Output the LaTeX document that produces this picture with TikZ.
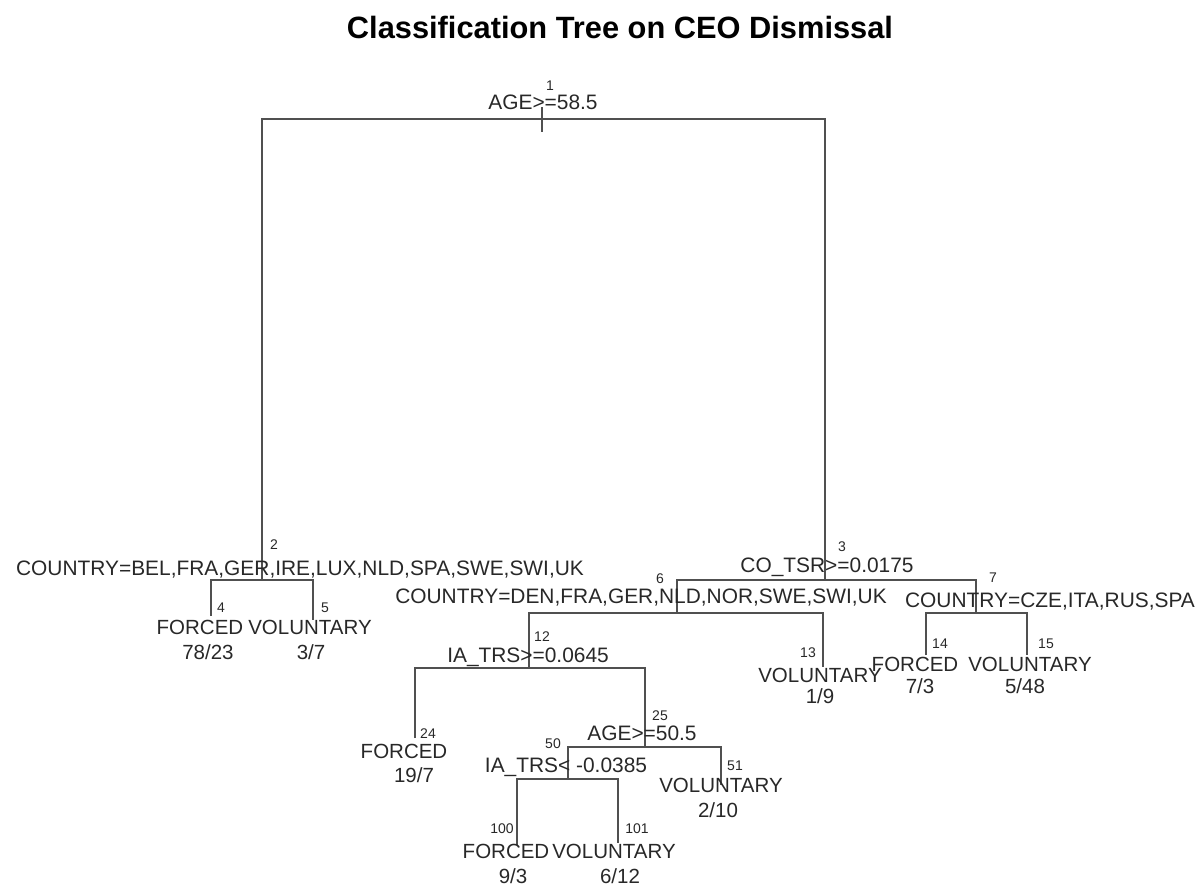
\documentclass[tikz,border=0pt]{standalone}
\usepackage{fontspec}
\setmainfont{Liberation Sans}
\usepackage{tikz}
\definecolor{treeline}{RGB}{80,80,80}
\definecolor{treetext}{RGB}{40,40,40}
\tikzset{
    splitlab/.style={anchor=base, inner sep=0pt, text=treetext, font=\fontsize{20.9}{24}\selectfont},
    leaflab/.style={anchor=base, inner sep=0pt, text=treetext, font=\fontsize{20.5}{24}\selectfont},
    numlab/.style={anchor=base, inner sep=0pt, text=treetext, font=\fontsize{14}{16}\selectfont},
    branch/.style={draw=treeline, line width=1.6pt}
}

\begin{document}
\begin{tikzpicture}[x=1pt,y=-1pt]
        \useasboundingbox (0,0) rectangle (1203,886);
        \node[anchor=base, font=\fontsize{30.8}{34}\selectfont\bfseries] (title) at (620,38) {Classification Tree on CEO Dismissal};

        \coordinate (n1) at (542,119);
        \coordinate (n2) at (262,580);
        \coordinate (n3) at (825,580);
        \coordinate (n4) at (211,616);
        \coordinate (n5) at (313,620);
        \coordinate (n6) at (677,613);
        \coordinate (n7) at (976,613);
        \coordinate (n12) at (529,668);
        \coordinate (n13) at (823,667);
        \coordinate (n14) at (926,655);
        \coordinate (n15) at (1027,655);
        \coordinate (n24) at (415,738);
        \coordinate (n25) at (645,747);
        \coordinate (n50) at (568,779);
        \coordinate (n51) at (721,785);
        \coordinate (n100) at (517,845);
        \coordinate (n101) at (618,843);

        \draw[branch] (n1) ++(0,-12) -- ++(0,25);
        \draw[branch] (n2) |- (n1) -| (n3);
        \draw[branch] (n4) |- (n2) -| (n5);
        \draw[branch] (n6) |- (n3) -| (n7);
        \draw[branch] (n12) |- (n6) -| (n13);
        \draw[branch] (n14) |- (n7) -| (n15);
        \draw[branch] (n24) |- (n12) -| (n25);
        \draw[branch] (n50) |- (n25) -| (n51);
        \draw[branch] (n100) |- (n50) -| (n101);

        \node[splitlab] (s1) at (543,109) {AGE>=58.5};
        \node[splitlab] (s2) at (300,575) {COUNTRY=BEL,FRA,GER,IRE,LUX,NLD,SPA,SWE,SWI,UK};
        \node[splitlab] (s3) at (827,572) {CO\_TSR>=0.0175};
        \node[splitlab] (s6) at (641,603) {COUNTRY=DEN,FRA,GER,NLD,NOR,SWE,SWI,UK};
        \node[splitlab] (s7) at (1050,607) {COUNTRY=CZE,ITA,RUS,SPA};
        \node[splitlab] (s12) at (528,662) {IA\_TRS>=0.0645};
        \node[splitlab] (s25) at (642,740) {AGE>=50.5};
        \node[splitlab] (s50) at (566,772) {IA\_TRS< -0.0385};

        \node[leaflab] (c4) at (200,634) {FORCED};
        \node[leaflab] (f4) at (208,659) {78/23};
        \node[leaflab] (c5) at (310,634) {VOLUNTARY};
        \node[leaflab] (f5) at (311,659) {3/7};
        \node[leaflab] (c13) at (820,682) {VOLUNTARY};
        \node[leaflab] (f13) at (820,703) {1/9};
        \node[leaflab] (c14) at (915,671) {FORCED};
        \node[leaflab] (f14) at (920,693) {7/3};
        \node[leaflab] (c15) at (1030,671) {VOLUNTARY};
        \node[leaflab] (f15) at (1025,693) {5/48};
        \node[leaflab] (c24) at (404,758) {FORCED};
        \node[leaflab] (f24) at (414,782) {19/7};
        \node[leaflab] (c51) at (721,792) {VOLUNTARY};
        \node[leaflab] (f51) at (718,817) {2/10};
        \node[leaflab] (c100) at (506,858) {FORCED};
        \node[leaflab] (f100) at (513,883) {9/3};
        \node[leaflab] (c101) at (614,858) {VOLUNTARY};
        \node[leaflab] (f101) at (620,883) {6/12};

        \node[numlab] (k1) at (550,90) {1};
        \node[numlab] (k2) at (274,549) {2};
        \node[numlab] (k3) at (842,551) {3};
        \node[numlab] (k4) at (221,612) {4};
        \node[numlab] (k5) at (325,612) {5};
        \node[numlab] (k6) at (660,583) {6};
        \node[numlab] (k7) at (993,582) {7};
        \node[numlab] (k12) at (542,641) {12};
        \node[numlab] (k13) at (808,657) {13};
        \node[numlab] (k14) at (940,648) {14};
        \node[numlab] (k15) at (1046,648) {15};
        \node[numlab] (k24) at (428,738) {24};
        \node[numlab] (k25) at (660,720) {25};
        \node[numlab] (k50) at (553,748) {50};
        \node[numlab] (k51) at (735,770) {51};
        \node[numlab] (k100) at (502,833) {100};
        \node[numlab] (k101) at (637,833) {101};
\end{tikzpicture}
\end{document}
